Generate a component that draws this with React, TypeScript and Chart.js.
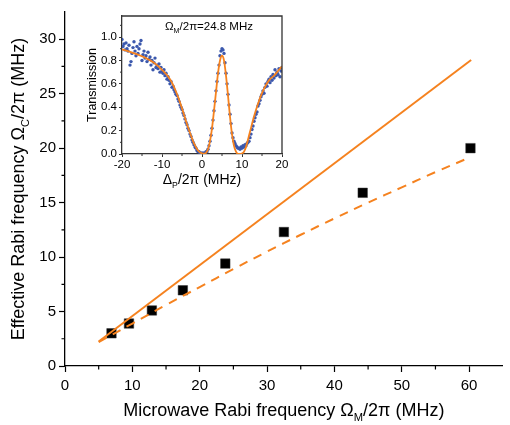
import React, { useEffect, useRef } from 'react';
import { Chart, registerables } from 'chart.js';
Chart.register(...registerables);

const FONT = "'Liberation Sans', Arial, sans-serif";
const ORANGE = '#f5821f';
const BLUE = '#3b58ad';

// Main chart data
const rabiX = [6.9, 9.5, 12.9, 17.5, 23.8, 32.5, 44.2, 60.2];
const rabiY = [3.0, 3.9, 5.1, 6.95, 9.4, 12.3, 15.9, 20.0];
const linearX = [5, 60.3];
const linearY = [2.25, 28.1];
const fitX = [5, 10, 15, 20, 25, 30, 35, 40, 45, 50, 55, 60.1];
const fitY = [2.2, 3.9, 5.6, 7.25, 8.9, 10.5, 12.05, 13.55, 15.0, 16.4, 17.8, 19.15];
const mainXTicks = [0, 10, 20, 30, 40, 50, 60];
const mainXMinor = [5, 15, 25, 35, 45, 55];
const mainYTicks = [0, 5, 10, 15, 20, 25, 30];
const mainYMinor = [2.5, 7.5, 12.5, 17.5, 22.5, 27.5];

// Inset data
const detuning = [
  -20, -19.75, -19.5, -19.25, -19, -18.75, -18.5, -18.25, -18, -17.75, -17.5, -17.25, -17, -16.75, -16.5, -16.25,
  -16, -15.75, -15.5, -15.25, -15, -14.75, -14.5, -14.25, -14, -13.75, -13.5, -13.25, -13, -12.75, -12.5, -12.25,
  -12, -11.75, -11.5, -11.25, -11, -10.75, -10.5, -10.25, -10, -9.75, -9.5, -9.25, -9, -8.75, -8.5, -8.25,
  -8, -7.75, -7.5, -7.25, -7, -6.75, -6.5, -6.25, -6, -5.75, -5.5, -5.25, -5, -4.75, -4.5, -4.25,
  -4, -3.75, -3.5, -3.25, -3, -2.75, -2.5, -2.25, -2, -1.75, -1.5, -1.25, -1, -0.75, -0.5, -0.25,
  0, 0.25, 0.5, 0.75, 1, 1.25, 1.5, 1.75, 2, 2.25, 2.5, 2.75, 3, 3.25, 3.5, 3.75,
  4, 4.25, 4.5, 4.75, 5, 5.25, 5.5, 5.75, 6, 6.25, 6.5, 6.75, 7, 7.25, 7.5, 7.75,
  8, 8.25, 8.5, 8.75, 9, 9.25, 9.5, 9.75, 10, 10.25, 10.5, 10.75, 11, 11.25, 11.5, 11.75,
  12, 12.25, 12.5, 12.75, 13, 13.25, 13.5, 13.75, 14, 14.25, 14.5, 14.75, 15, 15.25, 15.5, 15.75,
  16, 16.25, 16.5, 16.75, 17, 17.25, 17.5, 17.75, 18, 18.25, 18.5, 18.75, 19, 19.25, 19.5, 19.75, 20,
];
const transmission = [
  0.98, 0.92, 0.94, 0.89, 0.95, 0.90, 0.88, 0.93, 0.76, 0.79, 0.86, 0.91, 0.96, 0.88, 0.84, 0.92,
  0.86, 0.90, 0.94, 0.97, 0.80, 0.85, 0.88, 0.82, 0.84, 0.79, 0.87, 0.81, 0.83, 0.76, 0.80, 0.72,
  0.78, 0.82, 0.74, 0.76, 0.73, 0.77, 0.70, 0.74, 0.71, 0.69, 0.72, 0.67, 0.69, 0.64, 0.66, 0.63,
  0.60, 0.62, 0.57, 0.58, 0.55, 0.53, 0.51, 0.50, 0.47, 0.45, 0.42, 0.40, 0.38, 0.35, 0.33, 0.30,
  0.27, 0.25, 0.22, 0.20, 0.17, 0.15, 0.12, 0.10, 0.08, 0.06, 0.05, 0.03, 0.02, 0.02, 0.01, 0.01,
  0.00, 0.01, 0.00, 0.01, 0.02, 0.02, 0.04, 0.07, 0.11, 0.16, 0.22, 0.29, 0.37, 0.45, 0.54, 0.62,
  0.69, 0.76, 0.84, 0.88, 0.90, 0.89, 0.86, 0.78, 0.69, 0.60, 0.51, 0.42, 0.34, 0.26, 0.18, 0.14,
  0.11, 0.09, 0.07, 0.06, 0.05, 0.05, 0.04, 0.06, 0.05, 0.07, 0.06, 0.08, 0.07, 0.09, 0.10, 0.11,
  0.14, 0.17, 0.21, 0.24, 0.28, 0.31, 0.34, 0.36, 0.41, 0.43, 0.46, 0.49, 0.51, 0.54, 0.52, 0.57,
  0.60, 0.58, 0.62, 0.64, 0.61, 0.66, 0.63, 0.68, 0.65, 0.72, 0.67, 0.70, 0.68, 0.73, 0.66, 0.71, 0.74,
];
const theoryX = [-20, -18, -16, -14, -12, -10, -8, -7, -6, -5, -4, -3, -2, -1, 0, 0.5, 1, 1.5, 2, 2.5, 3, 3.5, 4, 4.5, 5, 5.5, 6, 6.5, 7, 7.5, 8, 8.5, 9, 9.5, 10, 10.5, 11, 12, 13, 14, 15, 16, 17, 18, 19, 20];
const theoryY = [0.894, 0.874, 0.85, 0.82, 0.78, 0.72, 0.64, 0.575, 0.49, 0.39, 0.28, 0.18, 0.09, 0.03, 0.005, 0.003, 0.01, 0.04, 0.11, 0.22, 0.37, 0.53, 0.69, 0.8, 0.84, 0.8, 0.67, 0.5, 0.32, 0.17, 0.07, 0.02, 0.0, 0.0, 0.005, 0.02, 0.06, 0.19, 0.32, 0.43, 0.52, 0.59, 0.64, 0.67, 0.71, 0.75];
const insetXTicks = [-20, -10, 0, 10, 20];
const insetXMinor = [-15, -5, 5, 15];
const insetYTicks = [0, 0.2, 0.4, 0.6, 0.8, 1.0];
const insetYMinor = [0.1, 0.3, 0.5, 0.7, 0.9, 1.1];

type Part = { t: string; sub?: boolean };

function drawRich(ctx: CanvasRenderingContext2D, parts: Part[], cx: number, cy: number, size: number, rotate: boolean) {
  ctx.save();
  ctx.translate(cx, cy);
  if (rotate) ctx.rotate(-Math.PI / 2);
  const subSize = size * 0.62;
  let total = 0;
  const widths = parts.map((p) => {
    ctx.font = `${p.sub ? subSize : size}px ${FONT}`;
    const w = ctx.measureText(p.t).width;
    total += w;
    return w;
  });
  let x = -total / 2;
  ctx.textBaseline = 'middle';
  ctx.textAlign = 'left';
  ctx.fillStyle = '#000';
  parts.forEach((p, i) => {
    ctx.font = `${p.sub ? subSize : size}px ${FONT}`;
    ctx.fillText(p.t, x, p.sub ? size * 0.38 : 0);
    x += widths[i];
  });
  ctx.restore();
}

function minorTickPlugin(id: string, xs: number[], ys: number[], len: number, color: string, width: number) {
  return {
    id,
    afterDraw(chart: any) {
      const ctx = chart.ctx as CanvasRenderingContext2D;
      const xs_ = chart.scales.x;
      const ys_ = chart.scales.y;
      const a = chart.chartArea;
      ctx.save();
      ctx.strokeStyle = color;
      ctx.lineWidth = width;
      ctx.beginPath();
      xs.forEach((v) => {
        const px = xs_.getPixelForValue(v);
        ctx.moveTo(px, a.bottom);
        ctx.lineTo(px, a.bottom + len);
      });
      ys.forEach((v) => {
        const py = ys_.getPixelForValue(v);
        ctx.moveTo(a.left, py);
        ctx.lineTo(a.left - len, py);
      });
      ctx.stroke();
      ctx.restore();
    },
  };
}

export default function App() {
  const mainRef = useRef<HTMLCanvasElement>(null);
  const insetRef = useRef<HTMLCanvasElement>(null);

  useEffect(() => {
    const mainTitles = {
      id: 'mainTitles',
      afterDraw(chart: any) {
        const ctx = chart.ctx as CanvasRenderingContext2D;
        const a = chart.chartArea;
        drawRich(ctx, [{ t: 'Microwave Rabi frequency Ω' }, { t: 'M', sub: true }, { t: '/2π (MHz)' }], (a.left + a.right) / 2, 411, 18, false);
        drawRich(ctx, [{ t: 'Effective Rabi frequency Ω' }, { t: 'C', sub: true }, { t: '/2π (MHz)' }], 19, (a.top + a.bottom) / 2, 18, true);
      },
    };

    const main = new Chart(mainRef.current!, {
      type: 'scatter',
      data: {
        datasets: [
          {
            data: linearX.map((x, i) => ({ x, y: linearY[i] })),
            showLine: true,
            borderColor: ORANGE,
            borderWidth: 2,
            pointRadius: 0,
          },
          {
            data: fitX.map((x, i) => ({ x, y: fitY[i] })),
            showLine: true,
            borderColor: ORANGE,
            borderWidth: 2,
            borderDash: [9, 7],
            tension: 0.4,
            pointRadius: 0,
          },
          {
            data: rabiX.map((x, i) => ({ x, y: rabiY[i] })),
            pointStyle: 'rect',
            pointRadius: 6.7,
            backgroundColor: '#000',
            borderColor: '#333',
            borderWidth: 0.5,
          },
        ],
      },
      options: {
        responsive: false,
        animation: false,
        devicePixelRatio: 1,
        layout: { padding: { top: 6, right: 0, left: 0, bottom: 0 } },
        plugins: { legend: { display: false }, tooltip: { enabled: false } },
        scales: {
          x: {
            type: 'linear',
            min: 0,
            max: 65,
            afterBuildTicks: (s: any) => {
              s.ticks = mainXTicks.map((v) => ({ value: v }));
            },
            afterFit: (s: any) => {
              s.height = 59;
            },
            ticks: { color: '#000', font: { family: FONT, size: 15 }, padding: 5, maxRotation: 0 },
            grid: { drawOnChartArea: false, drawTicks: true, tickLength: 6, tickColor: '#000', tickWidth: 1.2 },
            border: { display: true, color: '#000', width: 1.3 },
          },
          y: {
            type: 'linear',
            min: 0,
            max: 32.5,
            afterBuildTicks: (s: any) => {
              s.ticks = mainYTicks.map((v) => ({ value: v }));
            },
            afterFit: (s: any) => {
              s.width = 65;
            },
            ticks: { color: '#000', font: { family: FONT, size: 15 }, padding: 3 },
            grid: { drawOnChartArea: false, drawTicks: true, tickLength: 6, tickColor: '#000', tickWidth: 1.2 },
            border: { display: true, color: '#000', width: 1.3 },
          },
        },
      },
      plugins: [minorTickPlugin('mainMinor', mainXMinor, mainYMinor, 3.5, '#000', 1.2), mainTitles],
    } as any);

    const insetDeco = {
      id: 'insetDeco',
      afterDraw(chart: any) {
        const ctx = chart.ctx as CanvasRenderingContext2D;
        const a = chart.chartArea;
        ctx.save();
        ctx.strokeStyle = '#333';
        ctx.lineWidth = 1.3;
        ctx.beginPath();
        ctx.moveTo(a.left, a.top);
        ctx.lineTo(a.right, a.top);
        ctx.lineTo(a.right, a.bottom);
        ctx.stroke();
        ctx.restore();
        drawRich(ctx, [{ t: 'Δ' }, { t: 'P', sub: true }, { t: '/2π (MHz)' }], (a.left + a.right) / 2, 180, 14, false);
        drawRich(ctx, [{ t: 'Transmission' }], 33, 85, 12.5, true);
        drawRich(ctx, [{ t: 'Ω' }, { t: 'M', sub: true }, { t: '/2π=24.8 MHz' }], 149, 27, 11.5, false);
      },
    };

    const inset = new Chart(insetRef.current!, {
      type: 'scatter',
      data: {
        datasets: [
          {
            data: theoryX.map((x, i) => ({ x, y: theoryY[i] })),
            showLine: true,
            borderColor: ORANGE,
            borderWidth: 1.8,
            cubicInterpolationMode: 'monotone',
            pointRadius: 0,
          },
          {
            data: detuning.map((x, i) => ({ x, y: transmission[i] })),
            pointRadius: 1.7,
            backgroundColor: BLUE,
            borderWidth: 0,
          },
        ],
      },
      options: {
        responsive: false,
        animation: false,
        devicePixelRatio: 1,
        layout: { padding: { top: 16, right: 18, left: 0, bottom: 0 } },
        plugins: { legend: { display: false }, tooltip: { enabled: false } },
        scales: {
          x: {
            type: 'linear',
            min: -20,
            max: 20,
            afterBuildTicks: (s: any) => {
              s.ticks = insetXTicks.map((v) => ({ value: v }));
            },
            afterFit: (s: any) => {
              s.height = 46;
            },
            ticks: { color: '#000', font: { family: FONT, size: 11.5 }, padding: 1, maxRotation: 0 },
            grid: { drawOnChartArea: false, drawTicks: true, tickLength: 3, tickColor: '#333', tickWidth: 1 },
            border: { display: true, color: '#333', width: 1.3 },
          },
          y: {
            type: 'linear',
            min: 0,
            max: 1.18,
            afterBuildTicks: (s: any) => {
              s.ticks = insetYTicks.map((v) => ({ value: v }));
            },
            afterFit: (s: any) => {
              s.width = 62;
            },
            ticks: {
              color: '#000',
              font: { family: FONT, size: 11.5 },
              padding: 2,
              callback: (v: any) => Number(v).toFixed(1),
            },
            grid: { drawOnChartArea: false, drawTicks: true, tickLength: 3, tickColor: '#333', tickWidth: 1 },
            border: { display: true, color: '#333', width: 1.3 },
          },
        },
      },
      plugins: [minorTickPlugin('insetMinor', insetXMinor, insetYMinor, 2, '#333', 1), insetDeco],
    } as any);

    return () => {
      main.destroy();
      inset.destroy();
    };
  }, []);

  return (
    <div style={{ position: 'fixed', left: 0, top: 0, width: 510, height: 425, background: '#fff' }}>
      <canvas ref={mainRef} width={510} height={425} style={{ position: 'absolute', left: 0, top: 0 }} />
      <canvas ref={insetRef} width={240} height={200} style={{ position: 'absolute', left: 60, top: 0 }} />
    </div>
  );
}
